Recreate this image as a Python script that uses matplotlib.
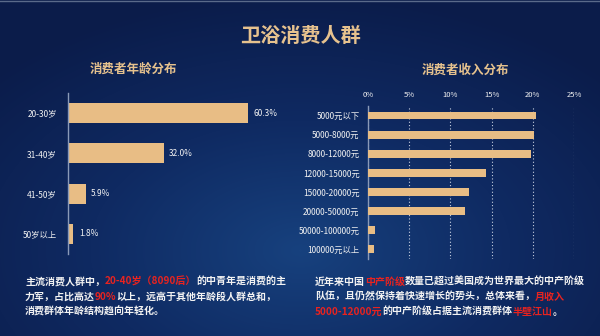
import matplotlib
matplotlib.use("Agg")
import matplotlib.pyplot as plt
import numpy as np
from matplotlib.colors import LinearSegmentedColormap

plt.rcParams['font.family'] = ['Noto Sans CJK SC', 'DejaVu Sans']

# ---- data ----
age_labels = ["20-30岁", "31-40岁", "41-50岁", "50岁以上"]
age_values = [60.3, 32.0, 5.9, 1.8]

income_labels = ["5000元以下", "5000-8000元", "8000-12000元", "12000-15000元",
                 "15000-20000元", "20000-50000元", "50000-100000元", "100000元以上"]
income_values = [20.4, 20.2, 19.8, 14.3, 12.2, 11.8, 0.8, 0.7]
income_ticks = [0, 5, 10, 15, 20, 25]

title = "卫浴消费人群"
sub_left = "消费者年龄分布"
sub_right = "消费者收入分布"

WHITE = "#f2f2f2"
RED = "#e8231f"
GOLD = "#e6c28e"
BAR = "#e8bd85"

left_lines = [
    [("主流消费人群中，", WHITE), ("20-40岁（8090后）", RED), ("的中青年是消费的主", WHITE)],
    [("力军，占比高达", WHITE), ("90%", RED), ("以上，远高于其他年龄段人群总和，", WHITE)],
    [("消费群体年龄结构趋向年轻化。", WHITE)],
]
right_lines = [
    [("近年来中国", WHITE), ("中产阶级", RED), ("数量已超过美国成为世界最大的中产阶级", WHITE)],
    [("队伍，且仍然保持着快速增长的势头，总体来看，", WHITE), ("月收入", RED)],
    [("5000-12000元", RED), ("的中产阶级占据主流消费群体", WHITE), ("半壁江山", RED), ("。", WHITE)],
]

W, H = 600, 336
fig = plt.figure(figsize=(6, 3.36), dpi=100)

# ---- background gradient ----
bg = fig.add_axes([0, 0, 1, 1], zorder=-10)
yy, xx = np.mgrid[0:H, 0:W]
d = np.sqrt(((xx - 300) / 420.0) ** 2 + ((yy - 250) / 260.0) ** 2)
d = np.clip(d, 0, 1)
cmap = LinearSegmentedColormap.from_list("bg", ["#17417e", "#0f2a62", "#0b1c4a"])
bg.imshow(d, cmap=cmap, aspect="auto", extent=[0, W, H, 0], vmin=0, vmax=1)
bg.plot([0, W], [0.5, 0.5], color="#5a6a8a", lw=1)
bg.set_xlim(0, W)
bg.set_ylim(H, 0)
bg.axis("off")

def fx(px):
    return px / W

def fy(py):
    return 1 - py / H

# ---- titles ----
fig.text(fx(300), fy(35), title, color=GOLD, fontsize=14.5, fontweight="bold",
         ha="center", va="center")
fig.text(fx(133), fy(69), sub_left, color=GOLD, fontsize=9, fontweight="bold",
         ha="center", va="center")
fig.text(fx(465), fy(70), sub_right, color=GOLD, fontsize=9, fontweight="bold",
         ha="center", va="center")

# ---- left chart ----
axL = fig.add_axes([fx(68), fy(254), 209 / W, 161 / H])
axL.set_facecolor("none")
yL = np.arange(len(age_labels))
axL.barh(yL, age_values, height=0.5, color=BAR)
axL.set_xlim(0, 70)
axL.set_ylim(len(age_labels) - 0.5, -0.5)
for s in ["top", "right", "bottom"]:
    axL.spines[s].set_visible(False)
axL.spines["left"].set_color("#8a9ab8")
axL.spines["left"].set_linewidth(1)
axL.set_xticks([])
axL.set_yticks(yL)
axL.set_yticklabels(age_labels, color=WHITE, fontsize=6)
axL.tick_params(axis="y", length=0, pad=8)
for yi, v in zip(yL, age_values):
    axL.annotate(f"{v:.1f}%", xy=(v, yi), xytext=(4, 0), textcoords="offset points",
                 va="center", ha="left", color=WHITE, fontsize=6)

# ---- right chart ----
axR = fig.add_axes([fx(368), fy(258.8), 206 / W, 152.7 / H])
axR.set_facecolor("none")
yR = np.arange(len(income_labels))
axR.barh(yR, income_values, height=0.4, color=BAR, zorder=3)
axR.set_xlim(0, 25)
axR.set_ylim(len(income_labels) - 0.5, -0.5)
for s in ["top", "right", "bottom"]:
    axR.spines[s].set_visible(False)
axR.spines["left"].set_color("#8a9ab8")
axR.spines["left"].set_linewidth(1)
axR.set_xticks(income_ticks)
axR.set_xticklabels([f"{t}%" for t in income_ticks], color=WHITE, fontsize=5.5)
axR.xaxis.tick_top()
axR.tick_params(axis="x", length=0, pad=5)
axR.grid(axis="x", color="#c8d0e0", linestyle=(0, (1, 2)), linewidth=0.8, zorder=1)
axR.set_axisbelow(True)
axR.set_yticks(yR)
axR.set_yticklabels(income_labels, color=WHITE, fontsize=6)
axR.tick_params(axis="y", length=0, pad=6)

# ---- rich text paragraphs ----
renderer = fig.canvas.get_renderer()

def draw_lines(lines, x0, y0, dy, size=7.2):
    for i, segs in enumerate(lines):
        x = x0
        y = y0 + i * dy
        for s, c in segs:
            t = fig.text(fx(x), fy(y), s, color=c, fontsize=size, fontweight="bold",
                         ha="left", va="baseline")
            x += t.get_window_extent(renderer).width

draw_lines(left_lines, 25, 284.5, 15.2)
draw_lines(right_lines, 315, 284.5, 15.2)

fig.savefig("out.png", dpi=100)
